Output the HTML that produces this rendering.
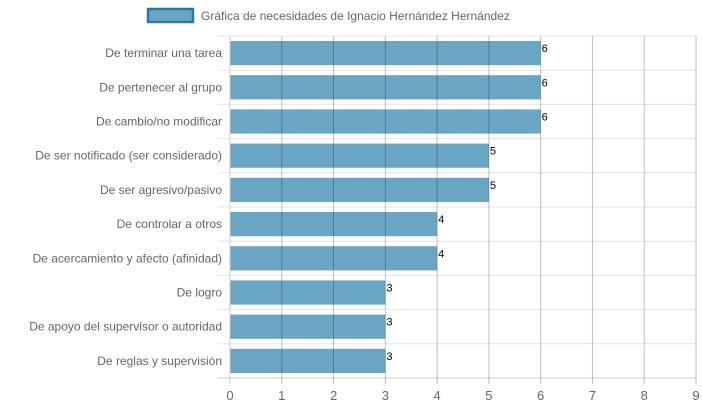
<!DOCTYPE html>
<html><head><meta charset="utf-8"><style>
body{margin:0;background:#fff;}
svg{display:block;font-family:"Liberation Sans",sans-serif;}
</style></head><body>
<svg id="c" width="702" height="409">
<rect x="148" y="9" width="45" height="13" fill="#6aa6c4" stroke="#2f77a0" stroke-width="2.5"/>
<text x="201" y="20" font-size="12" fill="#666">Gráfica de necesidades de Ignacio Hernández Hernández</text>
<g id="g"></g>
</svg>
<script>
const categories=["De terminar una tarea","De pertenecer al grupo","De cambio/no modificar","De ser notificado (ser considerado)","De ser agresivo/pasivo","De controlar a otros","De acercamiento y afecto (afinidad)","De logro","De apoyo del supervisor o autoridad","De reglas y supervisión"];
const values=[6,6,6,5,5,4,4,3,3,3];
const ticks=[0,1,2,3,4,5,6,7,8,9];
const X0=230,X1=696,Y0=36,Y1=378,XMAX=9;
const x=v=>X0+(X1-X0)*v/XMAX;
const band=(Y1-Y0)/categories.length;
const y=i=>Y0+band*i;
const g=document.getElementById('g');
const NS='http://www.w3.org/2000/svg';
function mk(t,a){const e=document.createElementNS(NS,t);for(const k in a)e.setAttribute(k,a[k]);g.appendChild(e);return e;}
for(let i=0;i<=categories.length;i++){
  const l=mk('line',{x1:218,x2:X1,y1:y(i),y2:y(i),stroke:i==categories.length?'#ccc':'#e6e6e6'});
  
  
}
categories.forEach((c,i)=>{
  const r=mk('rect',{x:X0,y:y(i)+5,width:x(values[i])-X0,height:band-10,fill:'#6aa6c4'});
  
  
  const t=mk('text',{x:222,y:y(i)+band/2+4,'font-size':12,fill:'#666','text-anchor':'end'});
  t.textContent=c;
  
  
  const v=mk('text',{x:x(values[i])+1,y:y(i)+band/2-1,'font-size':11,fill:'#000'});
  v.textContent=values[i];
  
  
});
ticks.forEach(t=>{
  const l=mk('line',{x1:x(t),x2:x(t),y1:Y0,y2:Y1+6,stroke:t==0?'#ccc':'rgba(0,0,0,0.25)'});
  
  
  const s=mk('text',{x:x(t),y:Y1+22,'font-size':13,fill:'#666','text-anchor':'middle'});
  s.textContent=t;
  
  
});
</script>
</body></html>
